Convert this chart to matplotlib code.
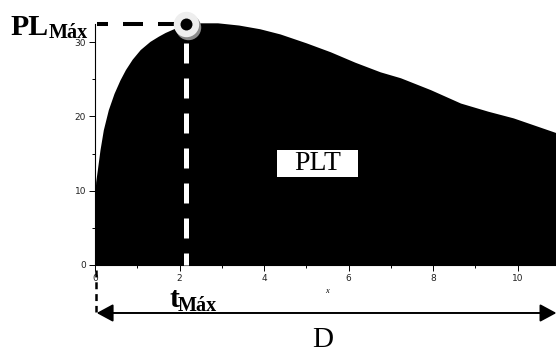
import matplotlib
matplotlib.use("Agg")
import matplotlib.pyplot as plt
from matplotlib.patches import Rectangle
from matplotlib.ticker import MultipleLocator
from matplotlib.transforms import offset_copy

plt.rcParams['lines.scale_dashes'] = False

# concentration curve
t = [0, 0.005, 0.016, 0.055, 0.118, 0.197, 0.315, 0.45, 0.59, 0.72, 0.88, 1.07,
     1.3, 1.5, 1.66, 1.9, 2.16, 2.5, 2.9, 3.4, 3.9, 4.38, 5.0, 5.57, 6.15, 6.75,
     7.23, 7.94, 8.65, 9.3, 9.9, 10.92]
c = [0, 10, 11.2, 12.8, 15.5, 18.2, 20.9, 23.1, 24.9, 26.3, 27.7, 29.0,
     30.1, 30.8, 31.3, 31.9, 32.3, 32.6, 32.6, 32.3, 31.8, 31.1, 29.9, 28.7, 27.3,
     26.0, 25.2, 23.6, 21.8, 20.7, 19.8, 17.8]
t_max = 2.155
pl_max = 32.4
x_ticks = [0, 2, 4, 6, 8, 10]
y_ticks = [0, 10, 20, 30]

W, H = 556, 349
fig = plt.figure(figsize=(W / 100, H / 100), dpi=100)
ax = fig.add_axes([95 / W, 84 / H, 461 / W, 241 / H])
ax.set_xlim(0, 10.91)
ax.set_ylim(0, 32.44)

ax.fill_between(t, c, 0, color='black', lw=0, clip_on=False, zorder=1)

for s in ['top', 'right']:
    ax.spines[s].set_visible(False)
ax.spines['left'].set_linewidth(0.8)
ax.set_xticks(x_ticks)
ax.set_yticks(y_ticks)
ax.xaxis.set_minor_locator(MultipleLocator(1))
ax.yaxis.set_minor_locator(MultipleLocator(5))
ax.tick_params(which='major', length=4, width=0.7, labelsize=6.5,
               labelcolor='#222222', pad=2.5)
ax.tick_params(which='minor', length=2.5, width=0.7)

# PLmax / tmax guides
ax.plot([1.96, 0.05], [pl_max, pl_max], color='black', lw=2.9,
        dashes=(14.4, 10.8), clip_on=False, solid_capstyle='butt',
        dash_capstyle='butt', zorder=3)
ax.plot([t_max, t_max], [29.88, 0], color='white', lw=3.6,
        dashes=(14.4, 10.8), clip_on=False, dash_capstyle='butt', zorder=3)

# marker with shadow
shadow = offset_copy(ax.transData, fig=fig, x=1.5, y=-2.5, units='dots')
ax.plot([t_max], [pl_max], 'o', ms=18.3, color='#8a8a8a', mec='none',
        transform=shadow, clip_on=False, zorder=4)
ax.plot([t_max], [pl_max], 'o', ms=18.3, color='#eeeeee', mec='none',
        clip_on=False, zorder=5)
ax.plot([t_max], [pl_max], 'o', ms=8.6, color='black', mec='none',
        clip_on=False, zorder=6)

# below-axis marks
ax.plot([0.02, 0.02], [-0.67, -6.3], color='black', lw=1.8,
        dashes=(5, 3.5), clip_on=False, dash_capstyle='butt')
ax.annotate('', xy=(10.92, -6.46), xytext=(0.04, -6.46),
            xycoords='data', annotation_clip=False,
            arrowprops=dict(arrowstyle='<|-|>,head_length=1.0,head_width=0.54',
                            color='black', lw=1.4, shrinkA=0, shrinkB=0))

serif = 'Liberation Serif'
fig.text(10 / W, 1 - 35 / H, 'PL', family=serif, weight='bold', fontsize=21.4,
         va='baseline', ha='left')
fig.text(49 / W, 1 - 37.5 / H, 'Máx', family=serif, weight='bold', fontsize=14.5,
         va='baseline', ha='left')
fig.text(169 / W, 1 - 307 / H, 't', family=serif, weight='bold', fontsize=21.4,
         va='baseline', ha='left')
fig.text(178 / W, 1 - 311 / H, 'Máx', family=serif, weight='bold', fontsize=14.5,
         va='baseline', ha='left')
fig.text(312 / W, 1 - 347 / H, 'D', family=serif, fontsize=21, va='baseline',
         ha='left')
fig.text(327 / W, 1 - 293 / H, 'x', family=serif, style='italic', fontsize=6,
         va='baseline', ha='center')

# white label box for the area
fig.patches.append(Rectangle((277 / W, 1 - 177 / H), 81 / W, 27 / H,
                             transform=fig.transFigure, fc='white', ec='none',
                             zorder=9))
fig.text(317.5 / W, 1 - 163.5 / H, 'PLT', family=serif, fontsize=20,
         va='center', ha='center', zorder=10)

fig.savefig('out.png', dpi=100)
